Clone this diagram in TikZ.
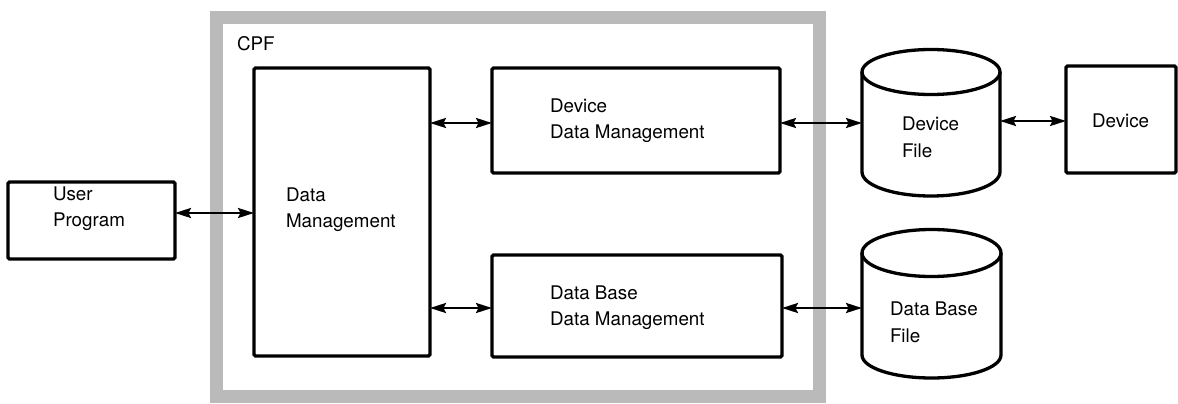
\documentclass[tikz,border=0pt]{standalone}
\usepackage{fontspec}
\setmainfont{TeX Gyre Heros}
\usetikzlibrary{arrows.meta,calc}

\tikzset{
  boxline/.style={draw=black, line width=3.3pt, rounded corners=1.5pt},
  block/.style={boxline, rectangle, inner sep=0pt, outer sep=0pt},
  drum/.style={rectangle, draw=none, inner sep=0pt, outer sep=0pt},
  caption/.style={anchor=north west, inner sep=0pt, outer sep=0pt, align=left,
    font=\fontsize{18.8}{26}\selectfont},
  link/.style={line width=2.3pt,
    {Stealth[length=16pt,width=10pt,inset=2.5pt]}-{Stealth[length=16pt,width=10pt,inset=2.5pt]}},
  frame/.style={rectangle, draw=black!27, line width=13pt, inner sep=0pt, outer sep=0pt}
}

% cylinder outline around a drum node: #1 node, #2 top y-radius, #3 bottom y-radius
\newcommand{\drumoutline}[3]{%
  \path let \p1=(#1.north west), \p2=(#1.north east) in
    \pgfextra{\pgfmathsetmacro{\rx}{(\x2-\x1)/2}\xdef\drumrx{\rx pt}};
  \draw[line width=3.3pt, line join=round]
    (#1.north west) arc[start angle=180, end angle=0, x radius=\drumrx, y radius=#2]
    -- (#1.south east) arc[start angle=0, end angle=-180, x radius=\drumrx, y radius=#3]
    -- cycle;
  \draw[line width=3.3pt]
    (#1.north west) arc[start angle=180, end angle=360, x radius=\drumrx, y radius=#2];
}

\begin{document}
\begin{tikzpicture}[x=1pt, y=-1pt]
  \useasboundingbox (0,0) rectangle (1178,404);

  % CPF enclosure
  \node[frame, minimum width=602.5pt, minimum height=379pt] (cpf) at (517.75,207) {};
  \node[caption] (cpflabel) at (237,36.6) {CPF};

  % blocks
  \node[block, minimum width=167pt, minimum height=77pt]  (user)   at (91.5,220.5) {};
  \node[block, minimum width=176pt, minimum height=288pt] (dm)     at (342,212) {};
  \node[block, minimum width=288pt, minimum height=105pt] (ddm)    at (636,120.5) {};
  \node[block, minimum width=290pt, minimum height=102pt] (dbdm)   at (637,306) {};
  \node[block, minimum width=110pt, minimum height=107pt] (device) at (1121,119.5) {};

  % files (cylinder bodies)
  \node[drum, minimum width=138pt, minimum height=100pt] (devfile) at (931,122) {};
  \node[drum, minimum width=139pt, minimum height=102pt] (dbfile)  at (931.5,304) {};
  \drumoutline{devfile}{22.5pt}{24pt}
  \drumoutline{dbfile}{23.5pt}{23pt}

  % labels
  \node[caption] (userlabel)   at (53,186.6)  {User\\Program};
  \node[caption] (dmlabel)     at (286,187.6) {Data\\Management};
  \node[caption] (ddmlabel)    at (550,98.6)  {Device\\Data Management};
  \node[caption] (dbdmlabel)   at (550,285.6) {Data Base\\Data Management};
  \node[caption, font=\fontsize{18.8}{27}\selectfont] (devfilelabel) at (902,116.6) {Device\\File};
  \node[caption, font=\fontsize{18.8}{27}\selectfont] (dbfilelabel)  at (890,301.6) {Data Base\\File};
  \node[caption] (devicelabel) at (1092,113.6) {Device};

  % connectors
  \coordinate (yuser) at (0,213);
  \coordinate (ytop)  at (0,123);
  \coordinate (ydev)  at (0,121);
  \coordinate (ybot)  at (0,308);
  \draw[link] (user.east |- yuser) -- (dm.west |- yuser);
  \draw[link] (dm.east |- ytop) -- (ddm.west |- ytop);
  \draw[link] (ddm.east |- ytop) -- (devfile.west |- ytop);
  \draw[link] (devfile.east |- ydev) -- (device.west |- ydev);
  \draw[link] (dm.east |- ybot) -- (dbdm.west |- ybot);
  \draw[link] (dbdm.east |- ybot) -- (dbfile.west |- ybot);
\end{tikzpicture}
\end{document}
